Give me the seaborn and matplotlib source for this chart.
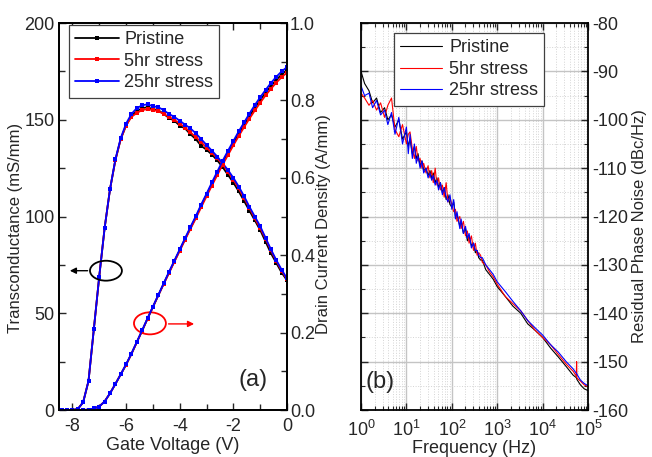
import numpy as np
import pandas as pd
import seaborn as sns
import matplotlib
matplotlib.use("Agg")
import matplotlib.pyplot as plt
from matplotlib.patches import Ellipse
from matplotlib.ticker import MultipleLocator, LogLocator, NullFormatter

# ---- panel (a): transfer characteristics ----
gate_v = [-8.5, -8.4, -8.2, -8.0, -7.8, -7.6, -7.4, -7.2, -7.0, -6.8, -6.6, -6.4, -6.2, -6.0,
          -5.8, -5.6, -5.4, -5.2, -5.0, -4.8, -4.6, -4.4, -4.2, -4.0, -3.8, -3.6, -3.4, -3.2,
          -3.0, -2.8, -2.6, -2.4, -2.2, -2.0, -1.8, -1.6, -1.4, -1.2, -1.0, -0.8, -0.6, -0.4,
          -0.2, 0.0]

gm_pristine = [0, 0, 0, 0, 0.5, 4, 15, 42, 69, 94, 114, 129, 140, 147,
               152, 154.5, 156, 156.5, 155.5, 155, 153, 151, 149.5, 147, 145.5, 142.5, 140, 136.5,
               134.5, 132, 129, 125.5, 121.5, 117.5, 113, 108, 103, 98, 93, 87, 81, 76,
               71, 67]
gm_5hr = [0, 0, 0, 0, 0.5, 4, 15, 42, 69, 94, 114, 129, 140, 147,
          151.5, 153.5, 155, 155.5, 155, 154.5, 153, 151.5, 150, 148, 146, 143.5, 141, 138.5,
          135.5, 133, 130, 127, 123, 119, 114.5, 109.5, 104.5, 99, 94, 88.5, 82.5, 77,
          72, 67.5]
gm_25hr = [0, 0, 0, 0, 0.5, 4, 15, 42, 69, 94, 114, 129.5, 140.5, 148,
           153, 156, 157.5, 158, 157, 156.5, 155, 153, 151.5, 149.5, 147.5, 145.5, 143, 140,
           137, 134, 131, 127.5, 124, 120, 115.5, 110.5, 105, 100, 95, 89, 83, 77.5,
           72.5, 68]

id_pristine = [0, 0, 0, 0, 0, 0, 0.001, 0.004, 0.009, 0.022, 0.043, 0.067, 0.092, 0.117,
               0.145, 0.175, 0.205, 0.236, 0.266, 0.296, 0.326, 0.355, 0.384, 0.413, 0.442, 0.47, 0.498, 0.528,
               0.556, 0.584, 0.612, 0.64, 0.665, 0.69, 0.714, 0.737, 0.759, 0.781, 0.801, 0.82, 0.837, 0.853,
               0.867, 0.879]
id_5hr = [0, 0, 0, 0, 0, 0, 0.001, 0.004, 0.009, 0.022, 0.043, 0.067, 0.092, 0.117,
          0.145, 0.175, 0.205, 0.236, 0.266, 0.296, 0.325, 0.354, 0.383, 0.411, 0.44, 0.468, 0.495, 0.524,
          0.552, 0.58, 0.607, 0.634, 0.659, 0.684, 0.708, 0.731, 0.753, 0.774, 0.794, 0.813, 0.83, 0.846,
          0.86, 0.872]
id_25hr = [0, 0, 0, 0, 0, 0, 0.001, 0.004, 0.009, 0.022, 0.043, 0.067, 0.092, 0.118,
           0.146, 0.176, 0.206, 0.237, 0.267, 0.297, 0.327, 0.357, 0.386, 0.415, 0.444, 0.473, 0.501, 0.531,
           0.559, 0.588, 0.616, 0.644, 0.67, 0.695, 0.72, 0.743, 0.766, 0.788, 0.808, 0.827, 0.845, 0.861,
           0.875, 0.886]

# ---- panel (b): residual phase noise ----
freq = [1, 1.2, 1.5, 1.8, 2.2, 2.7, 3.3, 3.9, 4.7, 5.6, 6.8, 8.2,
        10, 11, 12, 13.5, 15, 16.5, 18, 20, 22, 24, 27, 30, 33, 36, 39, 43, 47, 51, 56, 62, 68, 75, 82, 91,
        100, 110, 120, 130, 150, 160, 180, 200, 220, 240, 270, 300, 330, 360, 390, 430, 470, 560, 680, 820,
        1000, 1500, 2200, 3300, 4700, 6800,
        10000, 15000, 22000, 33000, 47000, 55000, 56000, 57000, 68000, 82000, 100000]

pn_pristine = [-90, -92.5, -94, -96.5, -95.5, -98.5, -97.5, -100, -99, -101.5, -100, -104,
               -102.5, -105.5, -104, -107, -105.5, -108, -107, -109.5, -108.5, -110.5, -110, -111.5, -110.5,
               -112, -111, -113, -112, -114, -113, -115, -114, -116.5, -115.5, -117.5,
               -118, -117, -120, -119.5, -122, -121, -123.5, -122.5, -125, -124, -126, -125.5, -127.5, -127,
               -128.5, -129, -129, -131, -132, -133,
               -134.5, -136.5, -138.5, -140, -142.2, -143.5,
               -145, -147.2, -149, -151, -152.8, -153.3, -153.5, -153.7, -154.8, -155.6, -156]
pn_5hr = [-94.5, -95.5, -97, -96, -98, -96.5, -99.5, -97, -95.5, -102, -103.5, -101,
          -105, -103, -102.5, -106, -108, -105.5, -108.5, -108, -110, -109, -111, -109.5, -112,
          -110.5, -113, -110, -113.5, -112, -114.5, -113.5, -116, -113, -117, -116,
          -117.5, -119, -118.5, -121, -120, -122.5, -121, -124, -123, -125.5, -124, -127, -125.5, -128,
          -127.5, -128, -129.5, -130, -131.5, -132.5,
          -134, -136.5, -138, -139.5, -141.5, -143.5,
          -145, -146.5, -148.5, -150.5, -152, -153, -150, -153.4, -154, -154.8, -155.2]
pn_25hr = [-93, -95, -94.5, -97.5, -96, -99, -98, -101, -98.5, -103, -99.5, -105,
           -101.5, -107, -103, -108, -105, -109, -107.5, -110, -108.5, -111, -110, -112, -111,
           -112.5, -111.5, -113.5, -112.5, -114.5, -113, -115.5, -114, -116, -117, -115.5,
           -118.5, -116.5, -120.5, -119, -122.5, -120.5, -123.5, -122, -124.5, -123.5, -126.5, -125.5, -127, -127,
           -128, -128.5, -128.5, -130, -131, -132,
           -133.5, -135.5, -137.5, -139.5, -141.5, -143,
           -144.5, -146.5, -148, -150, -151.5, -152.4, -152.5, -152.6, -153.8, -154.5, -155]

labels = ["Pristine", "5hr stress", "25hr stress"]
colors = ["black", "red", "blue"]

sns.set_style("ticks")
plt.rcParams["font.family"] = ["Liberation Sans", "DejaVu Sans"]
plt.rcParams["mathtext.default"] = "regular"
plt.rcParams["axes.unicode_minus"] = False
plt.rcParams["font.size"] = 13

TICK_FS = 13
LABEL_FS = 13
VLABEL_FS = 12

fig = plt.figure(figsize=(6.52, 4.57), dpi=100)
ax = fig.add_axes([0.0905, 0.1028, 0.3497, 0.8468])
ax2 = ax.twinx()

for gm, c, lab in zip([gm_pristine, gm_5hr, gm_25hr], colors, labels):
    sns.lineplot(x=gate_v, y=gm, ax=ax, color=c, lw=1.3, marker="s", markersize=2.4,
                 markeredgewidth=0, label=lab, legend=False)
for cur, c in zip([id_pristine, id_5hr, id_25hr], colors):
    sns.lineplot(x=gate_v, y=cur, ax=ax2, color=c, lw=1.3, marker="s", markersize=2.4,
                 markeredgewidth=0, legend=False)

ax.set_xlim(-8.5, 0)
ax.set_ylim(0, 200)
ax2.set_ylim(0, 1.0)
ax.xaxis.set_major_locator(MultipleLocator(2))
ax.xaxis.set_minor_locator(MultipleLocator(1))
ax.yaxis.set_major_locator(MultipleLocator(50))
ax.yaxis.set_minor_locator(MultipleLocator(25))
ax2.yaxis.set_major_locator(MultipleLocator(0.2))
ax2.yaxis.set_minor_locator(MultipleLocator(0.1))
ax2.yaxis.set_major_formatter(matplotlib.ticker.FormatStrFormatter("%.1f"))
ax.tick_params(which="both", direction="in", top=True, right=False, labelsize=TICK_FS, pad=3)
ax.tick_params(axis="x", which="both", pad=6)
ax.tick_params(which="major", length=5, width=1)
ax.tick_params(which="minor", length=4, width=1)
ax2.tick_params(which="both", direction="in", labelsize=TICK_FS, pad=2)
ax2.tick_params(which="major", length=5, width=1)
ax2.tick_params(which="minor", length=4, width=1)
ax.set_xlabel("Gate Voltage (V)", fontsize=LABEL_FS, labelpad=1)
ax.set_ylabel("Transconductance (mS/mm)", fontsize=VLABEL_FS, labelpad=1)
ax2.set_ylabel("Drain Current Density (A/mm)", fontsize=VLABEL_FS, labelpad=1)
ax.yaxis.label.set_y(0.47)
ax2.yaxis.label.set_y(0.48)
for a in (ax, ax2):
    for s in a.spines.values():
        s.set_linewidth(1.3)
        s.set_color("black")

h, l = ax.get_legend_handles_labels()
leg = ax.legend(h, l, loc="upper left", bbox_to_anchor=(0.044, 0.995), borderaxespad=0,
                fancybox=False, edgecolor="#404040", framealpha=1, fontsize=13,
                handlelength=2.4, handletextpad=0.3, labelspacing=0.25, borderpad=0.35)
leg.get_frame().set_linewidth(0.9)

ax.add_patch(Ellipse((-6.75, 72), 1.19, 10.3, fill=False, ec="black", lw=1.3, zorder=5))
ax.annotate("", xy=(-8.2, 72), xytext=(-7.33, 72),
            arrowprops=dict(arrowstyle="-|>", color="black", lw=1, mutation_scale=9))
ax.add_patch(Ellipse((-5.11, 44.8), 1.19, 11.4, fill=False, ec="red", lw=1.3, zorder=5))
ax.annotate("", xy=(-3.36, 44.5), xytext=(-4.52, 44.5),
            arrowprops=dict(arrowstyle="-|>", color="red", lw=1, mutation_scale=9))
ax.text(-1.27, 15.5, "(a)", fontsize=17, ha="center", va="center")

# ---- panel (b) ----
bx = fig.add_axes([0.5537, 0.1028, 0.3482, 0.8468])
for pn, c in zip([pn_pristine, pn_5hr, pn_25hr], colors):
    sns.lineplot(x=freq, y=pn, ax=bx, color=c, lw=0.8, legend=False)
bx.lines[0].set_label(labels[0])
bx.lines[1].set_label(labels[1])
bx.lines[2].set_label(labels[2])

bx.set_xscale("log")
bx.set_xlim(1, 1e5)
bx.set_ylim(-160, -80)
bx.xaxis.set_major_locator(LogLocator(base=10, numticks=10))
bx.xaxis.set_minor_locator(LogLocator(base=10, subs=np.arange(2, 10), numticks=20))
bx.xaxis.set_minor_formatter(NullFormatter())
bx.yaxis.set_major_locator(MultipleLocator(10))
bx.yaxis.set_minor_locator(MultipleLocator(5))
bx.grid(which="major", color="#c4c4c4", lw=1, ls="-")
bx.grid(which="minor", color="#d4d4d4", lw=0.7, ls=":")
bx.set_axisbelow(True)
bx.tick_params(which="both", direction="in", top=True, left=True, right=True,
               labelleft=False, labelright=True, labelsize=TICK_FS, pad=3)
bx.tick_params(axis="x", which="both", pad=7)
bx.tick_params(which="major", length=5, width=1)
bx.tick_params(which="minor", length=3, width=0.8)
bx.yaxis.set_label_position("right")
bx.set_xlabel("Frequency (Hz)", fontsize=LABEL_FS, labelpad=0)
bx.set_ylabel("Residual Phase Noise (dBc/Hz)", fontsize=VLABEL_FS, labelpad=3)
bx.yaxis.label.set_y(0.475)
for s in bx.spines.values():
    s.set_linewidth(1.3)
    s.set_color("black")

leg2 = bx.legend(loc="upper left", bbox_to_anchor=(0.145, 0.974), borderaxespad=0,
                 fancybox=False, edgecolor="#404040", framealpha=1, fontsize=13,
                 handlelength=2.3, handletextpad=0.4, labelspacing=0.25, borderpad=0.35)
leg2.get_frame().set_linewidth(0.9)
bx.text(2.6, -154.2, "(b)", fontsize=17, ha="center", va="center")

fig.savefig("out.png", dpi=100)
